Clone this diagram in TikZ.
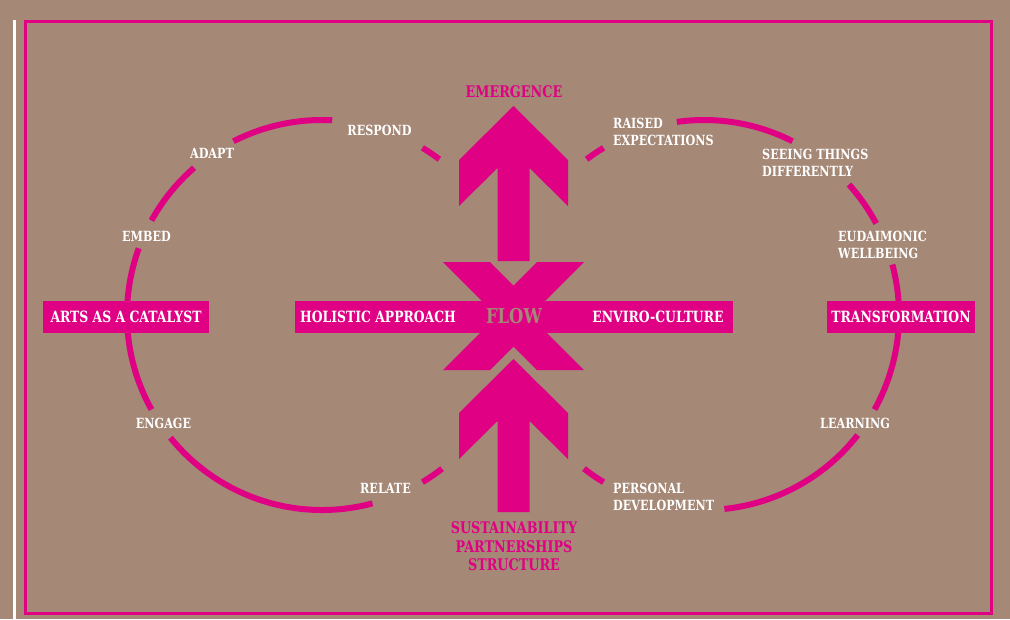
\documentclass[tikz,border=0pt]{standalone}
\usepackage{fontspec}
\setmainfont{DejaVu Serif}[FakeStretch=0.8]
\definecolor{bgbrown}{RGB}{165,136,118}
\definecolor{hotpink}{RGB}{224,0,132}
\tikzset{
  loopline/.style={hotpink, line width=6pt},
  looplabel/.style={white, font=\bfseries\fontsize{14}{17}\selectfont, align=left, inner sep=0pt},
  pinkbox/.style={fill=hotpink, text=white, font=\bfseries\fontsize{15.5}{17}\selectfont, inner sep=0pt, minimum height=32pt},
  pinktext/.style={hotpink, font=\bfseries\fontsize{16}{18.5}\selectfont, align=center, inner sep=0pt},
}
\begin{document}
\begin{tikzpicture}[x=1pt,y=-1pt]
\fill[bgbrown] (0,0) rectangle (1010,619);
\useasboundingbox (0,0) rectangle (1010,619);
\draw[white, line width=3pt] (14,20) -- (14,619);
\draw[hotpink, line width=3pt] (25.5,21.5) rectangle (991.5,613);
\coordinate (cl) at (322,315);
\coordinate (cr) at (704,315);
% left loop
\begin{scope}[loopline]
  \draw ([shift={(cl)}]53:195pt) arc[start angle=53, end angle=59, radius=195pt];
  \draw ([shift={(cl)}]87:195pt) arc[start angle=87, end angle=117, radius=195pt];
  \draw ([shift={(cl)}]131:195pt) arc[start angle=131, end angle=151, radius=195pt];
  \draw ([shift={(cl)}]160:195pt) arc[start angle=160, end angle=209, radius=195pt];
  \draw ([shift={(cl)}]219:195pt) arc[start angle=219, end angle=285, radius=195pt];
  \draw ([shift={(cl)}]301:195pt) arc[start angle=301, end angle=308, radius=195pt];
\end{scope}
% right loop
\begin{scope}[loopline]
  \draw ([shift={(cr)}]121:195pt) arc[start angle=121, end angle=127, radius=195pt];
  \draw ([shift={(cr)}]63:195pt) arc[start angle=63, end angle=98, radius=195pt];
  \draw ([shift={(cr)}]28:195pt) arc[start angle=28, end angle=42, radius=195pt];
  \draw ([shift={(cr)}]-29:195pt) arc[start angle=-29, end angle=15, radius=195pt];
  \draw ([shift={(cr)}]-84:195pt) arc[start angle=-84, end angle=-38, radius=195pt];
  \draw ([shift={(cr)}]232:195pt) arc[start angle=232, end angle=239, radius=195pt];
\end{scope}
% arrows and cross
\foreach \tip/\len in {106/155, 359/153}
  \fill[hotpink] (513.5,\tip) -- ++(54.5,54) -- ++(0,46) -- ++(-38.5,-38) -- (529.5,\tip+\len)
    -- (497.5,\tip+\len) -- (497.5,\tip+62) -- (459,\tip+100) -- (459,\tip+54) -- cycle;
\node[pinkbox, minimum width=438pt] (band) at (514,316.5) {};
\fill[hotpink] (443,262) -- (490,262) -- (513.5,285.5) -- (537,262) -- (584,262) -- (530,316)
  -- (584,370) -- (537,370) -- (513.5,346.5) -- (490,370) -- (443,370) -- (497,316) -- cycle;
\node[font=\bfseries\fontsize{20.5}{22}\selectfont, text=bgbrown, inner sep=0pt] (flow) at (514,316) {FLOW};
\node[pinkbox, fill=none] (holistic) at (378,316.5) {HOLISTIC APPROACH};
\node[pinkbox, fill=none] (enviro) at (658,316.5) {ENVIRO-CULTURE};
\node[pinktext] (emergence) at (514,91.5) {EMERGENCE};
\node[pinktext] (sustain) at (514,546.5) {SUSTAINABILITY\\PARTNERSHIPS\\STRUCTURE};
% side boxes
\node[pinkbox, minimum width=166pt] (arts) at (126,317) {ARTS AS A CATALYST};
\node[pinkbox, minimum width=148pt] (transform) at (901,317) {TRANSFORMATION};
% labels
\node[looplabel] (respond) at (379.5,130.5) {RESPOND};
\node[looplabel] (adapt) at (212,153.5) {ADAPT};
\node[looplabel] (embed) at (146.5,236.5) {EMBED};
\node[looplabel] (engage) at (163.5,423.5) {ENGAGE};
\node[looplabel] (relate) at (385.5,488.5) {RELATE};
\node[looplabel, anchor=west] (raised) at (613,132) {RAISED\\EXPECTATIONS};
\node[looplabel, anchor=west] (seeing) at (762,162.5) {SEEING THINGS\\DIFFERENTLY};
\node[looplabel, anchor=west] (eudaimonic) at (838,244.5) {EUDAIMONIC\\WELLBEING};
\node[looplabel] (learning) at (855,423.5) {LEARNING};
\node[looplabel, anchor=west] (personal) at (613,497) {PERSONAL\\DEVELOPMENT};
\end{tikzpicture}
\end{document}
